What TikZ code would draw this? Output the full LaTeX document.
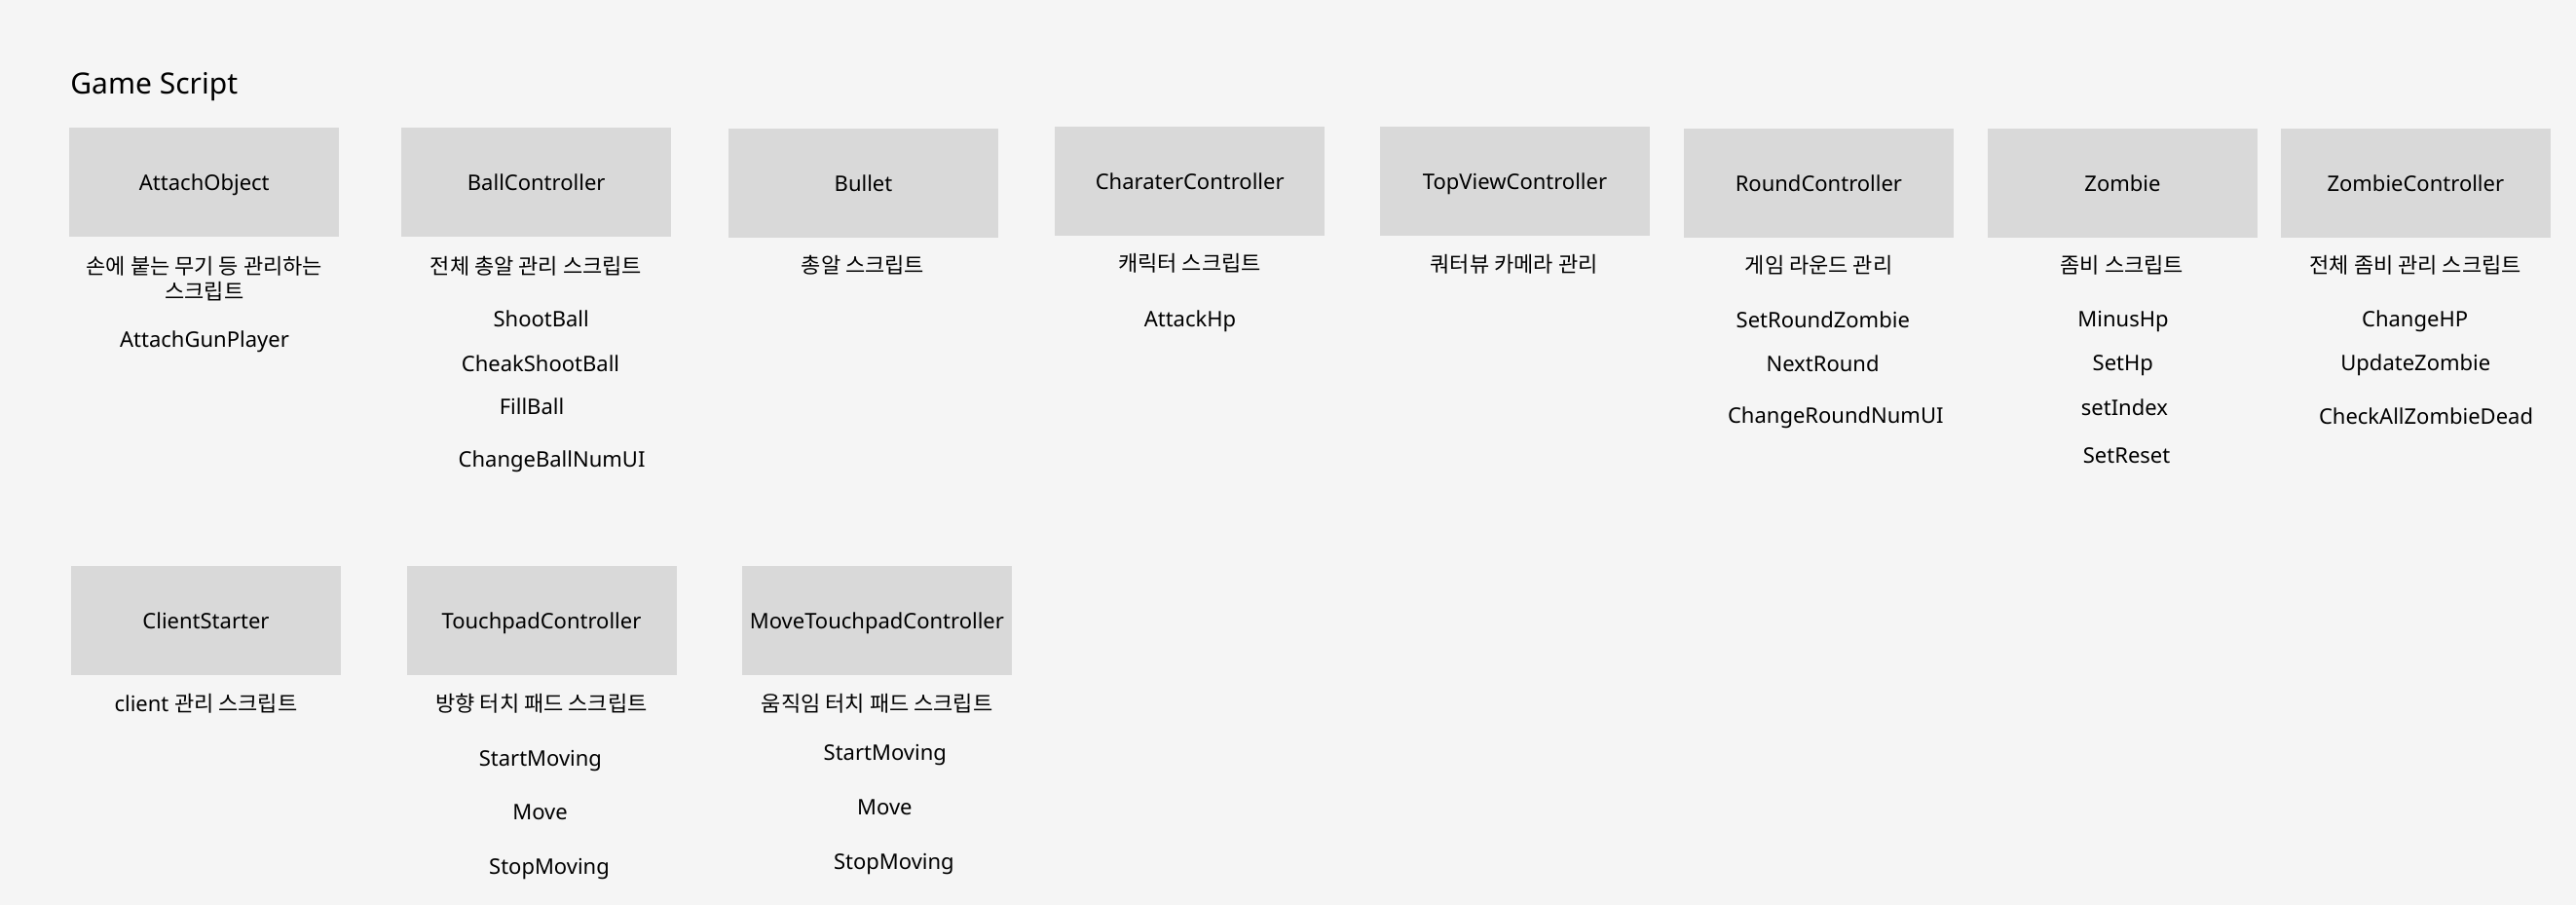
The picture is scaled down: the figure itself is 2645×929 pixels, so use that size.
\documentclass[tikz,border=0pt]{standalone}
\usepackage{fontspec}
\setmainfont{Noto Sans}
\newfontfamily\kr{Noto Sans CJK KR}
\definecolor{bgcol}{HTML}{F5F5F5}
\definecolor{boxcol}{HTML}{D9D9D9}
\begin{document}
\begin{tikzpicture}[x=0.5pt,y=-0.5pt,
  box/.style={fill=boxcol,draw=none,minimum width=138.5pt,minimum height=56pt,inner sep=0pt,
    font=\fontsize{11pt}{12.8pt}\selectfont,text height=0.85em,text depth=0pt},
  lbl/.style={inner sep=0pt,font=\fontsize{11pt}{12.8pt}\selectfont,text height=0.714em,text depth=0pt},
  krl/.style={inner sep=0pt,font=\fontsize{11pt}{12.8pt}\selectfont\kr,text height=0.74em,text depth=0pt}]
\fill[bgcol] (0,0) rectangle (2645,929);
\useasboundingbox (0,0) rectangle (2645,929);
\node[anchor=base west,inner sep=0pt,font=\fontsize{15pt}{18pt}\selectfont] (title) at (72,96.5) {Game Script};
% row 1 boxes
\node[box] (attach) at (209.8,187.5) {AttachObject};
\node[box] (ball) at (550.7,187.5) {BallController};
\node[box] (bullet) at (886.5,187.7) {Bullet};
\node[box] (chara) at (1221.7,185.8) {CharaterController};
\node[box] (topview) at (1555.5,185.8) {TopViewController};
\node[box] (round) at (1867.4,187.7) {RoundController};
\node[box] (zombie) at (2179.5,187.7) {Zombie};
\node[box] (zctrl) at (2480.3,187.7) {ZombieController};
% row 2 boxes
\node[box] (client) at (211.5,637.5) {ClientStarter};
\node[box] (touch) at (556,637.5) {TouchpadController};
\node[box] (mtouch) at (900.4,637.5) {MoveTouchpadController};
% AttachObject
\node[krl] (attachd1) at (209.8,273.7) {손에 붙는 무기 등 관리하는};
\node[krl] (attachd2) at (209.8,299.8) {스크립트};
\node[lbl] (attachf1) at (210,349.5) {AttachGunPlayer};
% BallController
\node[krl] (balld) at (550.5,273.7) {전체 총알 관리 스크립트};
\node[lbl] (ballf1) at (555.7,328.5) {ShootBall};
\node[lbl] (ballf2) at (555,374.2) {CheakShootBall};
\node[lbl] (ballf3) at (546,418.8) {FillBall};
\node[lbl] (ballf4) at (566.6,472) {ChangeBallNumUI};
% Bullet
\node[krl] (bulletd) at (886,272.7) {총알 스크립트};
% Charater
\node[krl] (charad) at (1221.5,271.3) {캐릭터 스크립트};
\node[lbl] (charaf1) at (1222,328.5) {AttackHp};
% TopView
\node[krl] (topviewd) at (1554.6,271.7) {쿼터뷰 카메라 관리};
% Round
\node[krl] (roundd) at (1867.6,273.3) {게임 라운드 관리};
\node[lbl] (roundf1) at (1871.8,329.2) {SetRoundZombie};
\node[lbl] (roundf2) at (1871.5,374.2) {NextRound};
\node[lbl] (roundf3) at (1884.8,427) {ChangeRoundNumUI};
% Zombie
\node[krl] (zombied) at (2178.9,273.3) {좀비 스크립트};
\node[lbl] (zombief1) at (2180,328.5) {MinusHp};
\node[lbl] (zombief2) at (2179.8,373.5) {SetHp};
\node[lbl] (zombief3) at (2181.4,419.8) {setIndex};
\node[lbl] (zombief4) at (2183.6,468.2) {SetReset};
% ZombieController
\node[krl] (zctrld) at (2480.3,273.3) {전체 좀비 관리 스크립트};
\node[lbl] (zctrlf1) at (2479.6,328) {ChangeHP};
\node[lbl] (zctrlf2) at (2480.3,373) {UpdateZombie};
\node[lbl] (zctrlf3) at (2491,428.2) {CheckAllZombieDead};
% ClientStarter
\node[lbl] (clientd) at (211.5,723.3) {client {\kr 관리 스크립트}};
% Touchpad
\node[krl] (touchd) at (556,723.3) {방향 터치 패드 스크립트};
\node[lbl] (touchf1) at (554.9,779.5) {StartMoving};
\node[lbl] (touchf2) at (554.5,834.8) {Move};
\node[lbl] (touchf3) at (564,890) {StopMoving};
% MoveTouchpad
\node[krl] (mtouchd) at (900.7,723.3) {움직임 터치 패드 스크립트};
\node[lbl] (mtouchf1) at (908.8,773.5) {StartMoving};
\node[lbl] (mtouchf2) at (908.4,829.2) {Move};
\node[lbl] (mtouchf3) at (917.9,885) {StopMoving};
\end{tikzpicture}
\end{document}
